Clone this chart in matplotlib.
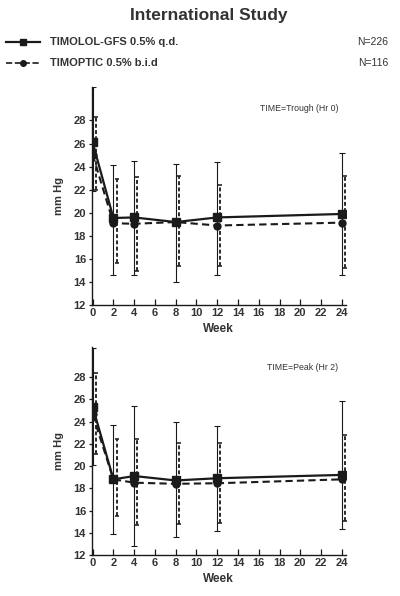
import matplotlib
matplotlib.use("Agg")
import matplotlib.pyplot as plt
import numpy as np
from matplotlib.lines import Line2D

plt.rcParams['font.family'] = ['Liberation Sans', 'DejaVu Sans']

weeks = [0, 2, 4, 8, 12, 24]

# Trough (Hr 0)
tr_gfs_mean = [26.1, 19.55, 19.6, 19.2, 19.6, 19.9]
tr_gfs_hi = [30.9, 24.1, 24.5, 24.25, 24.4, 25.2]
tr_gfs_lo = [21.9, 14.65, 14.6, 14.0, 14.6, 14.65]
tr_tim_mean = [25.05, 19.1, 19.05, 19.2, 18.9, 19.15]
tr_tim_hi = [28.3, 22.9, 23.1, 23.2, 22.4, 23.2]
tr_tim_lo = [22.0, 15.65, 15.0, 15.4, 15.4, 15.2]

# Peak (Hr 2)
pk_gfs_mean = [25.35, 18.8, 19.1, 18.7, 18.9, 19.2]
pk_gfs_hi = [30.65, 23.7, 25.4, 24.0, 23.6, 25.8]
pk_gfs_lo = [20.1, 13.9, 12.8, 13.6, 14.2, 14.3]
pk_tim_mean = [24.65, 18.8, 18.5, 18.4, 18.45, 18.8]
pk_tim_hi = [28.4, 22.4, 22.4, 22.1, 22.1, 22.75]
pk_tim_lo = [21.1, 15.5, 14.7, 14.8, 14.9, 15.1]

legend_labels = ["TIMOLOL-GFS 0.5% q.d.", "TIMOPTIC 0.5% b.i.d"]
legend_n = ["N=226", "N=116"]
panel_labels = ["TIME=Trough (Hr 0)", "TIME=Peak (Hr 2)"]

TXT = '#333333'
LC = '#1a1a1a'

fig = plt.figure(figsize=(4.0, 5.96), dpi=100)

fig.text(0.523, 0.974, "International Study", ha='center', va='center',
         fontsize=12.5, fontweight='bold', color=TXT)

# legend rows
for i, (lab, n) in enumerate(zip(legend_labels, legend_n)):
    yy = 0.929 - i * 0.035
    ls = '-' if i == 0 else '--'
    mk = 's' if i == 0 else 'o'
    ms = 5 if i == 0 else 4
    fig.add_artist(Line2D([0.015, 0.1], [yy, yy], transform=fig.transFigure,
                          color=LC, lw=1.6 if i == 0 else 1.2, ls=ls))
    fig.add_artist(Line2D([0.0575], [yy], transform=fig.transFigure,
                          color=LC, marker=mk, markersize=ms, ls='none'))
    fig.text(0.125, yy, lab, ha='left', va='center', fontsize=8,
             fontweight='bold', color=TXT)
    fig.text(0.97, yy, n, ha='right', va='center', fontsize=7.5,
             color=TXT)

panels = [
    (tr_gfs_mean, tr_gfs_hi, tr_gfs_lo, tr_tim_mean, tr_tim_hi, tr_tim_lo,
     [0.229, 0.488, 0.636, 0.366], 30.9),
    (pk_gfs_mean, pk_gfs_hi, pk_gfs_lo, pk_tim_mean, pk_tim_hi, pk_tim_lo,
     [0.229, 0.0688, 0.636, 0.349], 30.7),
]

for k, (gm, gh, gl, tm, th, tl, rect, ytop) in enumerate(panels):
    ax = fig.add_axes(rect)
    w = np.array(weeks, dtype=float)
    gm_a, gh_a, gl_a = map(np.array, (gm, gh, gl))
    tm_a, th_a, tl_a = map(np.array, (tm, th, tl))

    # dashed series (offset slightly right)
    e2 = ax.errorbar(w + 0.3, tm_a, yerr=[tm_a - tl_a, th_a - tm_a],
                     fmt='none', ecolor='#2a2a2a', elinewidth=1.4,
                     capsize=1.5, capthick=1.2)
    for lc in e2[2]:
        lc.set_linestyle((0, (2, 1.2)))
    ax.plot(w, tm_a, color=LC, lw=1.5, ls=(0, (3.5, 2)), marker='o',
            markersize=5)

    # solid series
    ax.errorbar(w, gm_a, yerr=[gm_a - gl_a, gh_a - gm_a], fmt='none',
                ecolor=LC, elinewidth=0.8, capsize=2, capthick=0.8)
    ax.plot(w, gm_a, color=LC, lw=1.6, marker='s', markersize=6)

    ax.set_xlim(-0.1, 24.4)
    ax.set_ylim(12, ytop)
    ax.set_xticks(range(0, 25, 2))
    ax.set_yticks(range(12, 29, 2))
    for s in ['top', 'right']:
        ax.spines[s].set_visible(False)
    for s in ['left', 'bottom']:
        ax.spines[s].set_color(LC)
        ax.spines[s].set_linewidth(1.0)
    ax.tick_params(axis='x', direction='in', length=4, width=0.9,
                   colors=LC, labelcolor=TXT, labelsize=8, pad=2)
    ax.tick_params(axis='y', direction='out', length=2, width=0.9,
                   colors=LC, labelcolor=TXT, labelsize=8, pad=2)
    for t in ax.get_xticklabels() + ax.get_yticklabels():
        t.set_fontweight('bold')
    ax.set_xlabel("Week", fontsize=8.5, fontweight='bold', color=TXT,
                  labelpad=4)
    ax.set_ylabel("mm Hg", fontsize=8, fontweight='bold', color=TXT,
                  labelpad=7)
    ax.text(0.97, 0.9, panel_labels[k], transform=ax.transAxes,
            ha='right', va='center', fontsize=6.3, color=TXT)

fig.savefig("out.png", dpi=100)
